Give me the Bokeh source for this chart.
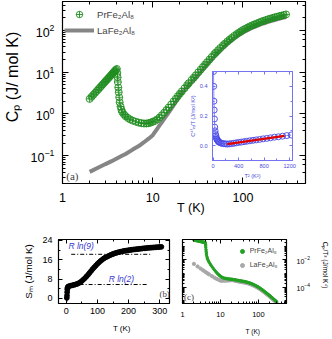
import numpy as np
from bokeh.plotting import figure
from bokeh.models import (LogAxis, LinearAxis, FixedTicker, SingleIntervalTicker,
                          CustomJSTickFormatter, PrintfTickFormatter, LogTickFormatter,
                          BasicTickFormatter, Legend, LegendItem, Label, Range1d)
from bokeh.layouts import column, row
from bokeh.embed import file_html
from bokeh.resources import INLINE

# ---------------- data ----------------
# (a) specific heat, PrFe2Al8 (circles) and LaFe2Al8 (line)
pr_T = [2.0, 2.1, 2.2, 2.3, 2.4, 2.5, 2.6, 2.7, 2.8, 2.9, 3.0, 3.1, 3.2, 3.3, 3.4, 3.5, 3.6, 3.7, 3.8, 3.9, 4.0,
        4.05, 4.08, 4.1, 4.15, 4.2, 4.25, 4.3, 4.4, 4.5, 4.6, 4.8, 5.0, 5.3, 5.6, 6.0, 6.5, 7.0, 7.5, 8.0, 8.5, 9.0, 9.5,
        10, 10.6, 11.2, 11.9, 12.6, 13.4, 14.2, 15, 16, 17, 18, 19, 20, 21, 22.5, 24, 25, 27, 28.5, 30,
        32, 34, 36, 38, 40, 42.5, 45, 48, 50, 53, 56, 60, 63, 67, 71, 75, 80, 85, 90, 95, 100,
        106, 112, 119, 126, 133, 141, 150, 159, 168, 178, 189, 200, 212, 224, 238, 252, 267, 283, 300]
pr_cp = [2.29, 2.57, 2.87, 3.2, 3.54, 3.9, 4.29, 4.7, 5.12, 5.58, 6.05, 6.54, 7.06, 7.6, 8.16, 8.75, 9.37, 10.0, 10.7, 11.3, 11.9,
         9.5, 7.5, 5.8, 4.3, 3.3, 2.5, 1.9, 1.5, 1.25, 1.1, 0.97, 0.88, 0.8, 0.74, 0.69, 0.65, 0.62, 0.6, 0.59, 0.59, 0.6, 0.62,
         0.65, 0.68, 0.74, 0.82, 0.93, 1.07, 1.24, 1.42, 1.68, 1.98, 2.3, 2.66, 3.05, 3.45, 4.1, 4.85, 5.4, 6.5, 7.4, 8.4,
         9.9, 11.5, 13.3, 15.2, 17.3, 20, 23, 26.8, 29.5, 33.5, 37.8, 43.5, 48, 54, 60, 66, 73.5, 81, 88, 95, 102,
         109, 116, 124, 131, 138, 145, 153, 161, 168, 175, 183, 190, 197, 204, 211, 218, 225, 232, 240]
la_T = [2, 2.5, 3, 3.5, 4, 4.5, 5, 6, 7, 8, 9,
        10, 10.6, 11.2, 11.9, 12.6, 13.4, 14.2, 15, 16, 17, 18, 19, 20, 21, 22.5, 24, 25, 27, 28.5, 30,
        32, 34, 36, 38, 40, 42.5, 45, 48, 50, 53, 56, 60, 63, 67, 71, 75, 80, 85, 90, 95, 100,
        106, 112, 119, 126, 133, 141, 150, 159, 168, 178, 189, 200, 212, 224, 238, 252, 267, 283, 300]
la_cp = [0.041, 0.052, 0.063, 0.074, 0.086, 0.098, 0.11, 0.14, 0.17, 0.21, 0.255,
         0.31, 0.37, 0.44, 0.53, 0.63, 0.76, 0.91, 1.08, 1.32, 1.6, 1.93, 2.3, 2.75, 3.15, 3.7, 4.3, 4.75, 5.7, 6.45, 7.3,
         8.6, 10.0, 11.6, 13.2, 15.0, 17.4, 20.0, 23.3, 25.7, 29.1, 32.9, 37.8, 41.7, 47.0, 52.2, 57.4, 63.9, 70.4, 76.5, 82.6, 88.7,
         94.8, 101, 108, 114, 120, 126, 133, 140, 146, 152, 159, 165, 171, 177, 183, 190, 196, 202, 209]

# inset: 4f electronic part C/T vs T^2
inset_t2 = [4, 6.25, 9, 12.25, 16, 20.25, 25, 30.25, 36, 42.25, 49, 56.25, 64, 72.25, 81, 90.25, 100,
            121, 144, 169, 196, 225, 256, 289, 324, 361, 400, 441, 484, 529, 576, 625, 676, 729,
            784, 841, 900, 961, 1024, 1089, 1156, 1225]
inset_c = [0.62, 0.5, 0.4, 0.3, 0.24, 0.18, 0.125, 0.1, 0.08, 0.068, 0.055, 0.046, 0.04, 0.034, 0.029, 0.025, 0.022,
           0.018, 0.015, 0.013, 0.012, 0.011, 0.012, 0.014, 0.016, 0.019, 0.022, 0.024, 0.027, 0.03, 0.033, 0.036, 0.039, 0.042,
           0.046, 0.049, 0.053, 0.057, 0.06, 0.064, 0.068, 0.072]
fit_t2 = [220, 1120]
fit_c = [0.011, 0.066]

# (b) magnetic entropy
b_T = [2, 2.5, 3, 3.5, 4, 5, 7, 10, 15, 20, 25, 30, 35, 40, 45, 50, 55, 60, 65, 70, 75, 80, 85, 90, 95, 100,
       105, 110, 115, 120, 125, 130, 135, 140, 145, 150, 155, 160, 165, 170, 175, 180, 185, 190, 195, 200,
       205, 210, 215, 220, 225, 230, 235, 240, 245, 250, 255, 260, 265, 270, 275, 280, 285, 290, 295, 300, 305]
b_S = [0.2, 1.2, 2.6, 3.8, 4.4, 4.7, 4.95, 5.1, 5.3, 5.45, 5.6, 5.8, 6.0, 6.3, 6.7, 7.2, 7.8, 8.4, 9.1, 9.8, 10.6, 11.4, 12.2, 12.9, 13.6, 14.3,
       14.9, 15.5, 16.0, 16.5, 16.9, 17.2, 17.55, 17.85, 18.15, 18.4, 18.65, 18.85, 19.05, 19.2, 19.35, 19.5, 19.65, 19.75, 19.85, 19.95,
       20.05, 20.15, 20.25, 20.3, 20.4, 20.45, 20.55, 20.6, 20.7, 20.75, 20.8, 20.9, 20.95, 21.0, 21.05, 21.1, 21.15, 21.2, 21.25, 21.3, 21.35]
pink_T = [2.5, 4.5]
pink_S = [-1.5, 4.7]
rln9_T = [16, 269]
rln9_S = [18.27, 18.27]
rln2_T = [43, 261]
rln2_S = [5.76, 5.76]

# (c) Cp/T^3 from the same specific-heat data
c_pr = (np.array(pr_cp) / np.array(pr_T) ** 3).tolist()
c_la = (np.array(la_cp) / np.array(la_T) ** 3).tolist()

# ---------------- style ----------------
FONT = "Liberation Sans"
SERIF = "Liberation Serif"
GREEN = "#1e8c1e"
GRAY = "#858585"
BLUE = "#7474f2"
BLUE_TXT = "#4b4bdc"
NB = "\u00a0"


def inward(ax, maj=5, mnr=3, color="black"):
    ax.major_tick_in = maj
    ax.major_tick_out = 0
    ax.minor_tick_in = mnr
    ax.minor_tick_out = 0
    ax.axis_line_color = color
    ax.major_tick_line_color = color
    ax.minor_tick_line_color = color


def blank(ax):
    ax.formatter = CustomJSTickFormatter(code="return ''")
    ax.major_label_text_font_size = "0px"
    ax.major_label_standoff = 0


def style_text(ax, tick_size, label_size, color="black"):
    ax.major_label_text_font = FONT
    ax.major_label_text_font_size = tick_size
    ax.major_label_text_color = color
    ax.axis_label_text_font = FONT
    ax.axis_label_text_font_size = label_size
    ax.axis_label_text_font_style = "normal"
    ax.axis_label_text_color = color


# ---------------- (a) main ----------------
p = figure(width=331, height=217, x_axis_type="log", y_axis_type="log",
           x_range=Range1d(1, 493), y_range=Range1d(0.0216, 490),
           output_backend="svg", toolbar_location=None,
           min_border_left=60, min_border_right=26, min_border_top=1, min_border_bottom=34)
p.grid.visible = False
p.outline_line_color = "black"
p.outline_line_width = 1.2
r_la = p.line(la_T, la_cp, line_color=GRAY, line_width=4)
r_pr = p.scatter(pr_T, pr_cp, marker="circle_cross", size=7, line_color=GREEN,
                 fill_color=None, line_width=0.9)

xa = p.xaxis[0]
ya = p.yaxis[0]
inward(xa, 6, 3)
inward(ya, 6, 3)
xa.formatter = BasicTickFormatter()
style_text(xa, "12.5px", "12.6px")
style_text(ya, "12.5px", "16px")
xa.axis_label = NB * 4 + "T (K)"
ya.axis_label = NB * 7 + "Cₚ (J/ mol K)"
xa.major_label_standoff = 9
xa.axis_label_standoff = -4
ya.major_label_standoff = 8
ya.axis_label_standoff = 7
for side in ("above", "right"):
    ax = LogAxis()
    inward(ax, 6, 3)
    blank(ax)
    p.add_layout(ax, side)

leg = Legend(items=[LegendItem(label="PrFe₂Al₈", renderers=[r_pr]),
                    LegendItem(label="LaFe₂Al₈", renderers=[r_la])],
             location=(2, 145), padding=0, margin=0, spacing=0,
             label_height=16, glyph_height=16, glyph_width=30, label_standoff=3,
             label_text_font=FONT, label_text_font_size="9.6px",
             background_fill_alpha=0, border_line_color=None)
p.add_layout(leg)
p.add_layout(Label(x=1.1, y=0.033, text="(a)", text_font=SERIF, text_font_size="11px",
                   text_baseline="middle"))

# ---------------- inset ----------------
# borders match the main plot's (the column aligns them); frame sits at x 210..292, y 71..160
pi = figure(width=168, height=124, x_range=Range1d(-10, 1245), y_range=Range1d(-0.1, 0.5),
            output_backend="svg", toolbar_location=None,
            min_border_left=60, min_border_right=26, min_border_top=1, min_border_bottom=34,
            border_fill_color=None, background_fill_color="white",
            outline_line_color=BLUE,
            styles={"position": "absolute", "left": "150px", "top": "70px"})
pi.grid.visible = False
pi.line(inset_t2, inset_c, line_color=BLUE, line_width=0.8)
pi.scatter(inset_t2, inset_c, marker="circle", size=6, line_color="#4a4ae6", fill_color=None,
           line_width=0.9)
pi.line(fit_t2, fit_c, line_color="#e00000", line_width=2.3)
ix = pi.xaxis[0]
iy = pi.yaxis[0]
ix.ticker = SingleIntervalTicker(interval=400, num_minor_ticks=2)
iy.ticker = SingleIntervalTicker(interval=0.2, num_minor_ticks=2)
iy.formatter = PrintfTickFormatter(format="%.1f")
for ax in (ix, iy):
    inward(ax, 3, 2, BLUE)
    style_text(ax, "5.6px", "5.6px", BLUE_TXT)
ix.axis_label = "T² (K²)"
iy.axis_label = "C⁴ᶠₑₗ/T (J/mol K²)"
ix.major_label_standoff = 3
ix.axis_label_standoff = 2
iy.major_label_standoff = 5
iy.axis_label_standoff = 1
ax = LinearAxis(ticker=SingleIntervalTicker(interval=400, num_minor_ticks=2))
inward(ax, 3, 2, BLUE)
blank(ax)
pi.add_layout(ax, "above")
ax = LinearAxis(ticker=SingleIntervalTicker(interval=0.2, num_minor_ticks=2))
inward(ax, 3, 2, BLUE)
blank(ax)
pi.add_layout(ax, "right")

# ---------------- (b) ----------------
pb = figure(width=175, height=121, x_range=Range1d(-24.7, 331), y_range=Range1d(-2.1, 24.4),
            output_backend="svg", toolbar_location=None,
            min_border_left=58, min_border_right=6, min_border_top=22, min_border_bottom=31)
pb.grid.visible = False
pb.outline_line_color = "black"
pb.outline_line_width = 1.2
pb.line(rln9_T, rln9_S, line_color="black", line_width=1, line_dash="4 2 1 2")
pb.line(rln2_T, rln2_S, line_color="black", line_width=1, line_dash="4 2 1 2")
pb.line(pink_T, pink_S, line_color="#e0508a", line_width=1, line_dash="2 2")
pb.scatter(b_T, b_S, size=4.8, color="black")
bx = pb.xaxis[0]
by = pb.yaxis[0]
bx.ticker = SingleIntervalTicker(interval=100, num_minor_ticks=2)
by.ticker = SingleIntervalTicker(interval=8, num_minor_ticks=2)
inward(bx, 4, 2)
inward(by, 4, 2)
style_text(bx, "9px", "8px")
style_text(by, "9px", "9.8px")
bx.axis_label = NB * 7 + "T (K)"
by.axis_label = "Sₘ (J/mol K)"
bx.major_label_standoff = 4
bx.axis_label_standoff = 7
by.major_label_standoff = 6
by.axis_label_standoff = 5
ax = LinearAxis(ticker=SingleIntervalTicker(interval=100, num_minor_ticks=2))
inward(ax, 4, 2)
blank(ax)
pb.add_layout(ax, "above")
ax = LinearAxis(ticker=SingleIntervalTicker(interval=8, num_minor_ticks=2))
inward(ax, 4, 2)
blank(ax)
pb.add_layout(ax, "right")
for txt, x, y in (("R ln(9)", 7, 21.6), ("R ln(2)", 136, 8.2)):
    pb.add_layout(Label(x=x, y=y, text=txt, text_font=FONT, text_font_size="8.5px",
                        text_font_style="italic", text_color="#3a3ad0", text_baseline="middle"))
pb.add_layout(Label(x=299, y=1.8, text="(b)", text_font=SERIF, text_font_size="8.8px",
                    text_baseline="middle"))

# ---------------- (c) ----------------
c_minor = [k * 10.0 ** n for n in range(-6, 0) for k in range(1, 10)
           if not (k == 1 and n in (-4, -2))]
pc = figure(width=156, height=121, x_axis_type="log", y_axis_type="log",
            x_range=Range1d(1, 550), y_range=Range1d(10 ** -5.19, 10 ** -0.5),
            y_axis_location="right", output_backend="svg", toolbar_location=None,
            min_border_left=7, min_border_right=41, min_border_top=22, min_border_bottom=35)
pc.grid.visible = False
pc.outline_line_color = "black"
pc.outline_line_width = 1.2
r_cla = pc.scatter(la_T, c_la, size=3.3, color="#a8a8a8")
r_cpr = pc.scatter(pr_T, c_pr, size=2.4, color="#22a022")
cx = pc.xaxis[0]
cy = pc.yaxis[0]
cx.formatter = BasicTickFormatter()
cy.ticker = FixedTicker(ticks=[1e-4, 1e-2], minor_ticks=c_minor)
cy.formatter = LogTickFormatter()
inward(cx, 4, 2)
inward(cy, 4, 2)
style_text(cx, "7.5px", "6.6px")
style_text(cy, "7px", "6.6px")
cx.axis_label = NB * 20 + "T (K)"
cy.axis_label = "Cₚ/T³ (J/mol K⁴)" + NB * 7
cx.major_label_standoff = 8
cx.axis_label_standoff = 8
cy.major_label_standoff = 10
cy.axis_label_standoff = 9
ax = LogAxis()
inward(ax, 4, 2)
blank(ax)
pc.add_layout(ax, "above")
ax = LogAxis(ticker=FixedTicker(ticks=[1e-4, 1e-2], minor_ticks=c_minor))
inward(ax, 4, 2)
blank(ax)
pc.add_layout(ax, "left")
legc = Legend(items=[LegendItem(label="PrFe₂Al₈", renderers=[r_cpr]),
                     LegendItem(label="LaFe₂Al₈", renderers=[r_cla])],
              location=(54.7, 31.5), padding=0, margin=0, spacing=0,
              label_height=14, glyph_height=14, glyph_width=10, label_standoff=3,
              label_text_font=FONT, label_text_font_size="7px",
              background_fill_alpha=0, border_line_color=None)
pc.add_layout(legc)
pc.add_layout(Label(x=1.1, y=10 ** -4.75, text="(c)", text_font=SERIF, text_font_size="9px",
                    text_baseline="middle"))

layout = column(p, row(pb, pc), pi, styles={"position": "relative"})
open("out.html", "w").write(file_html(layout, INLINE))
